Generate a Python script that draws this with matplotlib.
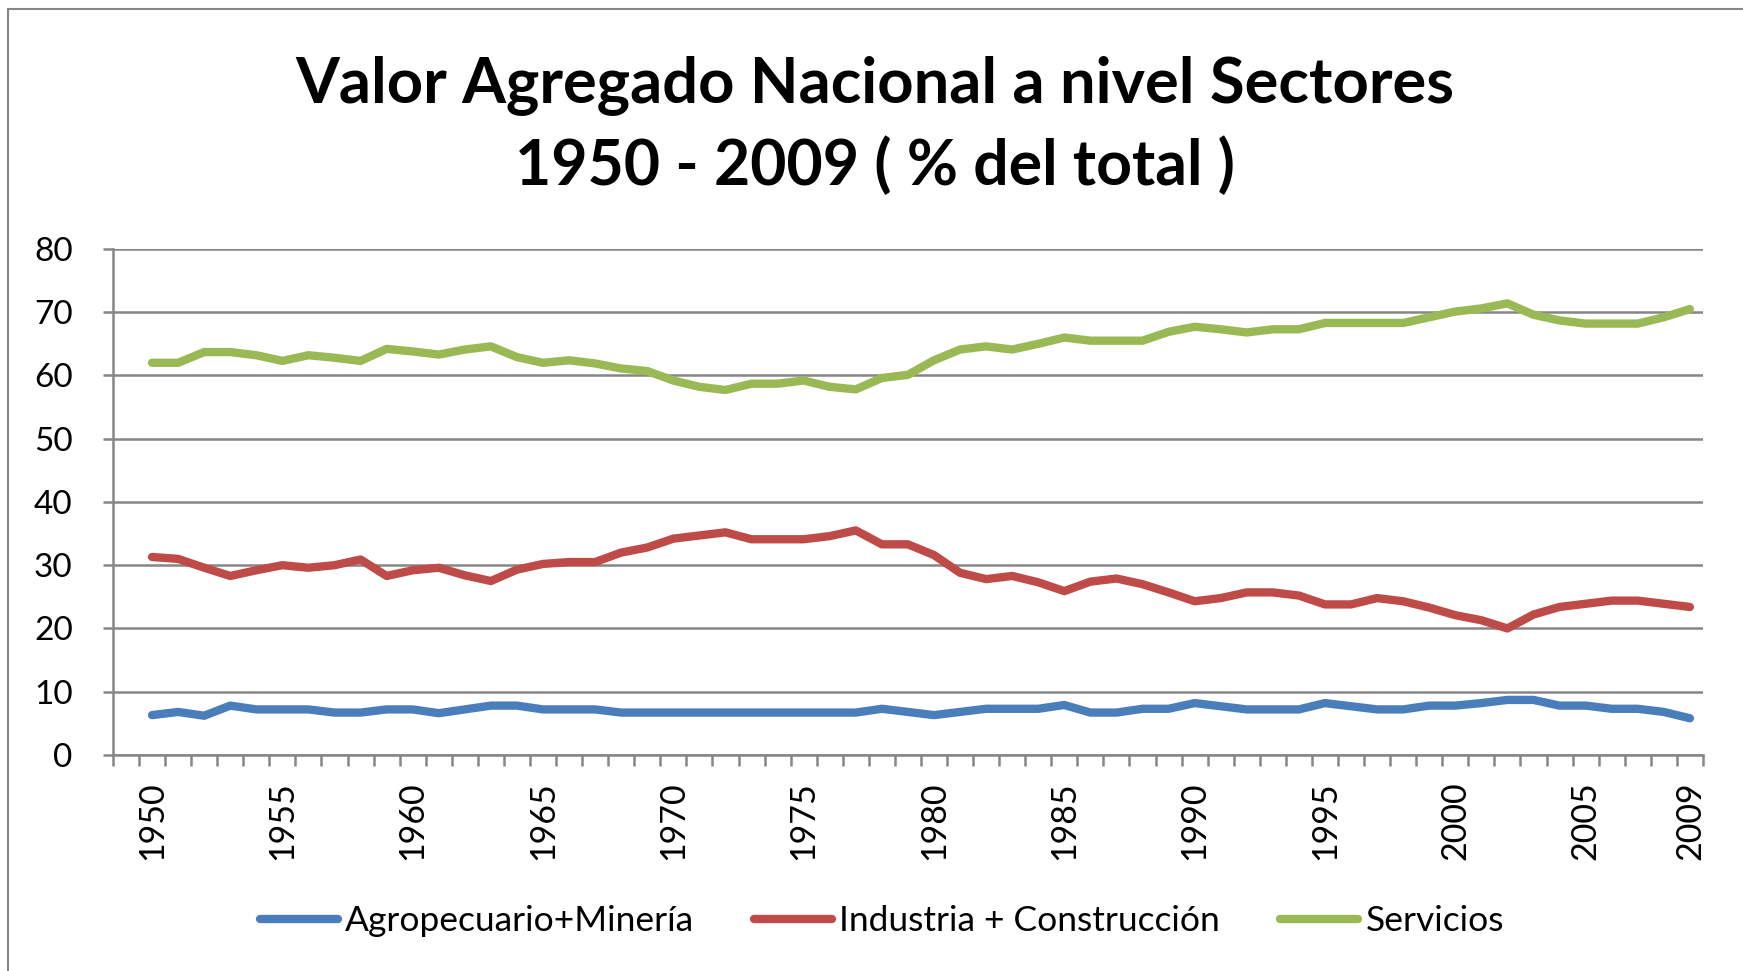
import numpy as np
import matplotlib
matplotlib.use("Agg")
import matplotlib.pyplot as plt
from matplotlib.patches import Rectangle

years = np.arange(1950, 2010)

agro = [6.3, 6.8, 6.2, 7.8, 7.2, 7.2, 7.2, 6.7, 6.7, 7.2,
        7.2, 6.6, 7.2, 7.8, 7.8, 7.2, 7.2, 7.2, 6.7, 6.7,
        6.7, 6.7, 6.7, 6.7, 6.7, 6.7, 6.7, 6.7, 7.3, 6.8,
        6.3, 6.8, 7.3, 7.3, 7.3, 7.9, 6.7, 6.7, 7.3, 7.3,
        8.2, 7.7, 7.2, 7.2, 7.2, 8.2, 7.7, 7.2, 7.2, 7.8,
        7.8, 8.2, 8.7, 8.7, 7.8, 7.8, 7.3, 7.3, 6.8, 5.8]

industria = [31.3, 31.0, 29.6, 28.3, 29.2, 30.0, 29.6, 30.0, 30.9, 28.3,
             29.2, 29.6, 28.4, 27.5, 29.3, 30.2, 30.5, 30.5, 32.0, 32.8,
             34.2, 34.7, 35.2, 34.1, 34.1, 34.1, 34.6, 35.5, 33.3, 33.3,
             31.6, 28.8, 27.8, 28.3, 27.3, 25.9, 27.4, 27.9, 27.0, 25.7,
             24.3, 24.8, 25.7, 25.7, 25.2, 23.8, 23.8, 24.8, 24.3, 23.3,
             22.1, 21.3, 20.0, 22.2, 23.4, 23.9, 24.4, 24.4, 23.9, 23.4]

servicios = [62.0, 62.0, 63.7, 63.7, 63.2, 62.3, 63.2, 62.8, 62.3, 64.2,
             63.8, 63.3, 64.1, 64.6, 62.9, 62.0, 62.4, 61.9, 61.1, 60.7,
             59.2, 58.2, 57.7, 58.7, 58.7, 59.2, 58.2, 57.8, 59.6, 60.1,
             62.4, 64.1, 64.6, 64.1, 65.0, 66.0, 65.5, 65.5, 65.5, 66.9,
             67.7, 67.3, 66.8, 67.3, 67.3, 68.3, 68.3, 68.3, 68.3, 69.2,
             70.1, 70.6, 71.4, 69.6, 68.7, 68.2, 68.2, 68.2, 69.2, 70.5]

series_names = ["Agropecuario+Minería", "Industria + Construcción", "Servicios"]
colors = ["#4a7ebb", "#be4b48", "#98b954"]
tick_years = [1950, 1955, 1960, 1965, 1970, 1975, 1980, 1985, 1990, 1995, 2000, 2005, 2009]

plt.rcParams["font.family"] = ["Lato", "DejaVu Sans"]
grey = "#868686"

fig = plt.figure(figsize=(17.43, 9.71), dpi=100)
ax = fig.add_axes([0.0648, 0.2225, 0.9122, 0.5211])

for vals, name, c in zip([agro, industria, servicios], series_names, colors):
    ax.plot(years, vals, color=c, lw=6, label=name,
            solid_capstyle="round", solid_joinstyle="round")

ax.set_xlim(1948.5, 2009.5)
ax.set_ylim(0, 80)
ax.set_yticks(range(0, 81, 10))
ax.grid(axis="y", color=grey, lw=1.8)
ax.set_axisbelow(True)

ax.set_xticks(tick_years)
ax.set_xticklabels([str(y) for y in tick_years], rotation=90, fontsize=24.5)
ax.set_xticks(np.arange(1948.5, 2010, 1), minor=True)
ax.tick_params(axis="x", which="major", length=0, pad=19)
ax.tick_params(axis="x", which="minor", length=8, width=1.8, color=grey)
ax.tick_params(axis="y", length=7, width=1.8, color=grey, pad=22, labelsize=24)

for s in ["top", "right"]:
    ax.spines[s].set_visible(False)
for s in ["left", "bottom"]:
    ax.spines[s].set_color(grey)
    ax.spines[s].set_linewidth(1.8)

fig.text(0.502, 1 - 102 / 971, "Valor Agregado Nacional a nivel Sectores",
         ha="center", va="baseline", fontsize=45.5, fontweight="bold")
fig.text(0.502, 1 - 185 / 971, "1950 - 2009 ( % del total )",
         ha="center", va="baseline", fontsize=45, fontweight="bold")

fig.legend(loc="center", bbox_to_anchor=(0.506, 0.0515), ncol=3, frameon=False,
           fontsize=25.5, handlelength=2.2, handletextpad=0.2, columnspacing=1.7)

fig.patches.append(Rectangle((8 / 1743, -0.1), 1.2, 1 - 9 / 971 + 0.1,
                             transform=fig.transFigure, fill=False,
                             edgecolor=grey, lw=1.5))

fig.savefig("out.png", dpi=100, facecolor="white")
